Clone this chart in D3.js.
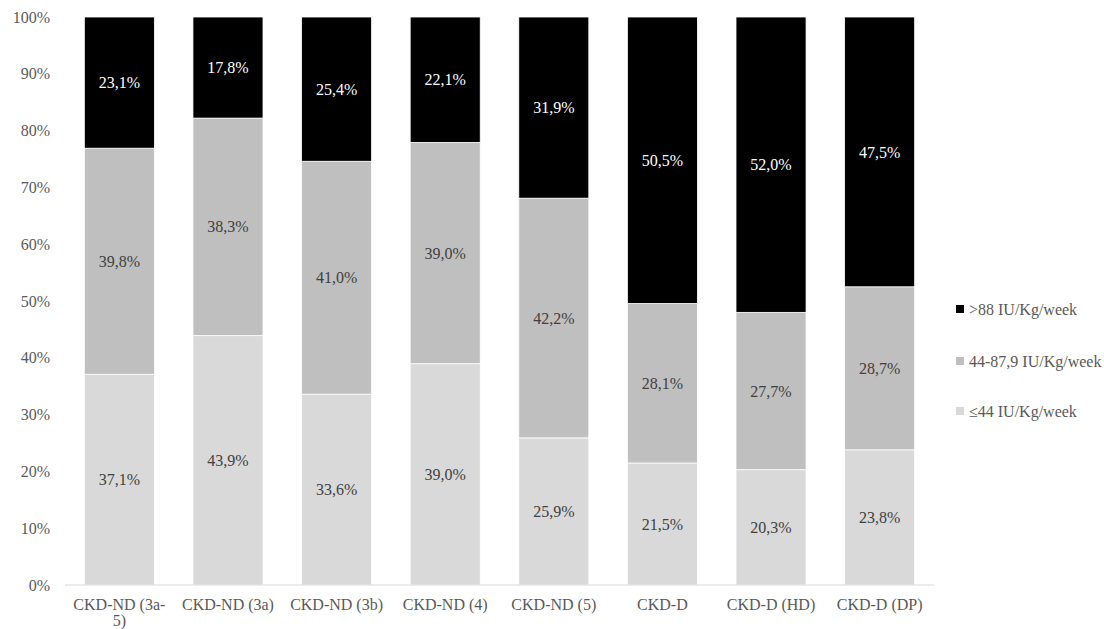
<!DOCTYPE html>
<html>
<head>
<meta charset="utf-8">
<script src="https://cdn.jsdelivr.net/npm/d3@7"></script>
<style>
  body { margin: 0; background: #fff; }
</style>
</head>
<body>
<div id="chart"></div>
<script>
// categories and series
var categories = ["CKD-ND (3a-5)", "CKD-ND (3a)", "CKD-ND (3b)", "CKD-ND (4)", "CKD-ND (5)", "CKD-D", "CKD-D (HD)", "CKD-D (DP)"];
var seriesNames = ["\u226444 IU/Kg/week", "44-87,9 IU/Kg/week", ">88 IU/Kg/week"];
var low  = [37.1, 43.9, 33.6, 39.0, 25.9, 21.5, 20.3, 23.8];
var mid  = [39.8, 38.3, 41.0, 39.0, 42.2, 28.1, 27.7, 28.7];
var high = [23.1, 17.8, 25.4, 22.1, 31.9, 50.5, 52.0, 47.5];
var yTicks = [0, 0.1, 0.2, 0.3, 0.4, 0.5, 0.6, 0.7, 0.8, 0.9, 1];

var colors = ["#d9d9d9", "#bfbfbf", "#000000"];
var labelColors = ["#404040", "#404040", "#ffffff"];
var FONT = "'Liberation Serif', 'Times New Roman', 'DejaVu Serif', serif";
var FS = "16px";

var W = 1104, H = 629;
var margin = {top: 17, left: 65, bottom: 44};
var plotRight = 934;

var svg = d3.select("#chart").append("svg")
	.attr("width", W)
	.attr("height", H)
	.attr("font-family", FONT);

// build rows for the stack (normalised to 100%)
var rows = categories.map(function(c, i) {
	var tot = low[i] + mid[i] + high[i];
	return {cat: c, s0: low[i] / tot, s1: mid[i] / tot, s2: high[i] / tot, raw: [low[i], mid[i], high[i]]};
});

var stack = d3.stack().keys(["s0", "s1", "s2"]);
var layers = stack(rows);

var x = d3.scaleBand()
	.domain(categories)
	.range([margin.left, plotRight])
	.paddingInner(0.355)
	.paddingOuter(0.178);

var y = d3.scaleLinear()
	.domain([0, 1])
	.range([H - margin.bottom, margin.top]);

// y axis labels (no line)
svg.append("g")
	.selectAll("text")
	.data(yTicks)
	.enter().append("text")
	.attr("x", 50)
	.attr("y", function(d) { return y(d); })
	.attr("dy", "0.35em")
	.attr("text-anchor", "end")
	.attr("fill", "#595959")
	.attr("font-family", FONT)
	.style("font-size", FS)
	.text(d3.format(".0%"));

// bars
var g = svg.append("g");
layers.forEach(function(layer, k) {
	g.selectAll(".bar" + k)
		.data(layer)
		.enter().append("rect")
		.attr("x", function(d) { return x(d.data.cat); })
		.attr("y", function(d) { return y(d[1]); })
		.attr("width", x.bandwidth())
		.attr("height", function(d) { return y(d[0]) - y(d[1]); })
		.attr("fill", colors[k])
		.attr("stroke", "#ffffff")
		.attr("stroke-width", 0.8);

	g.selectAll(".lbl" + k)
		.data(layer)
		.enter().append("text")
		.attr("x", function(d) { return x(d.data.cat) + x.bandwidth() / 2; })
		.attr("y", function(d) { return (y(d[0]) + y(d[1])) / 2; })
		.attr("dy", "0.35em")
		.attr("text-anchor", "middle")
		.attr("fill", labelColors[k])
		.attr("font-family", FONT)
		.style("font-size", FS)
		.text(function(d) { return d.data.raw[k].toFixed(1).replace(".", ",") + "%"; });
});

// baseline
svg.append("line")
	.attr("x1", margin.left).attr("x2", plotRight)
	.attr("y1", y(0)).attr("y2", y(0))
	.attr("stroke", "#d9d9d9")
	.attr("stroke-width", 1);

// category labels (first one wraps)
svg.append("g")
	.selectAll("text")
	.data(categories)
	.enter().append("text")
	.attr("text-anchor", "middle")
	.attr("fill", "#595959")
	.attr("font-family", FONT)
	.style("font-size", FS)
	.each(function(d) {
		var t = d3.select(this);
		var cx = x(d) + x.bandwidth() / 2;
		var lines = d === "CKD-ND (3a-5)" ? ["CKD-ND (3a-", "5)"] : [d];
		lines.forEach(function(l, i) {
			t.append("tspan")
				.attr("x", cx)
				.attr("y", 610 + i * 16)
				.text(l);
		});
	});

// legend
var legendY = [411, 361, 309];
var lg = svg.append("g");
seriesNames.forEach(function(n, k) {
	lg.append("rect")
		.attr("x", 956)
		.attr("y", legendY[k] - 4)
		.attr("width", 8)
		.attr("height", 8)
		.attr("fill", colors[k]);
	lg.append("text")
		.attr("x", 969)
		.attr("y", legendY[k])
		.attr("dy", "0.35em")
		.attr("fill", "#595959")
		.attr("font-family", FONT)
		.style("font-size", FS)
		.text(n);
});
</script>
</body>
</html>
